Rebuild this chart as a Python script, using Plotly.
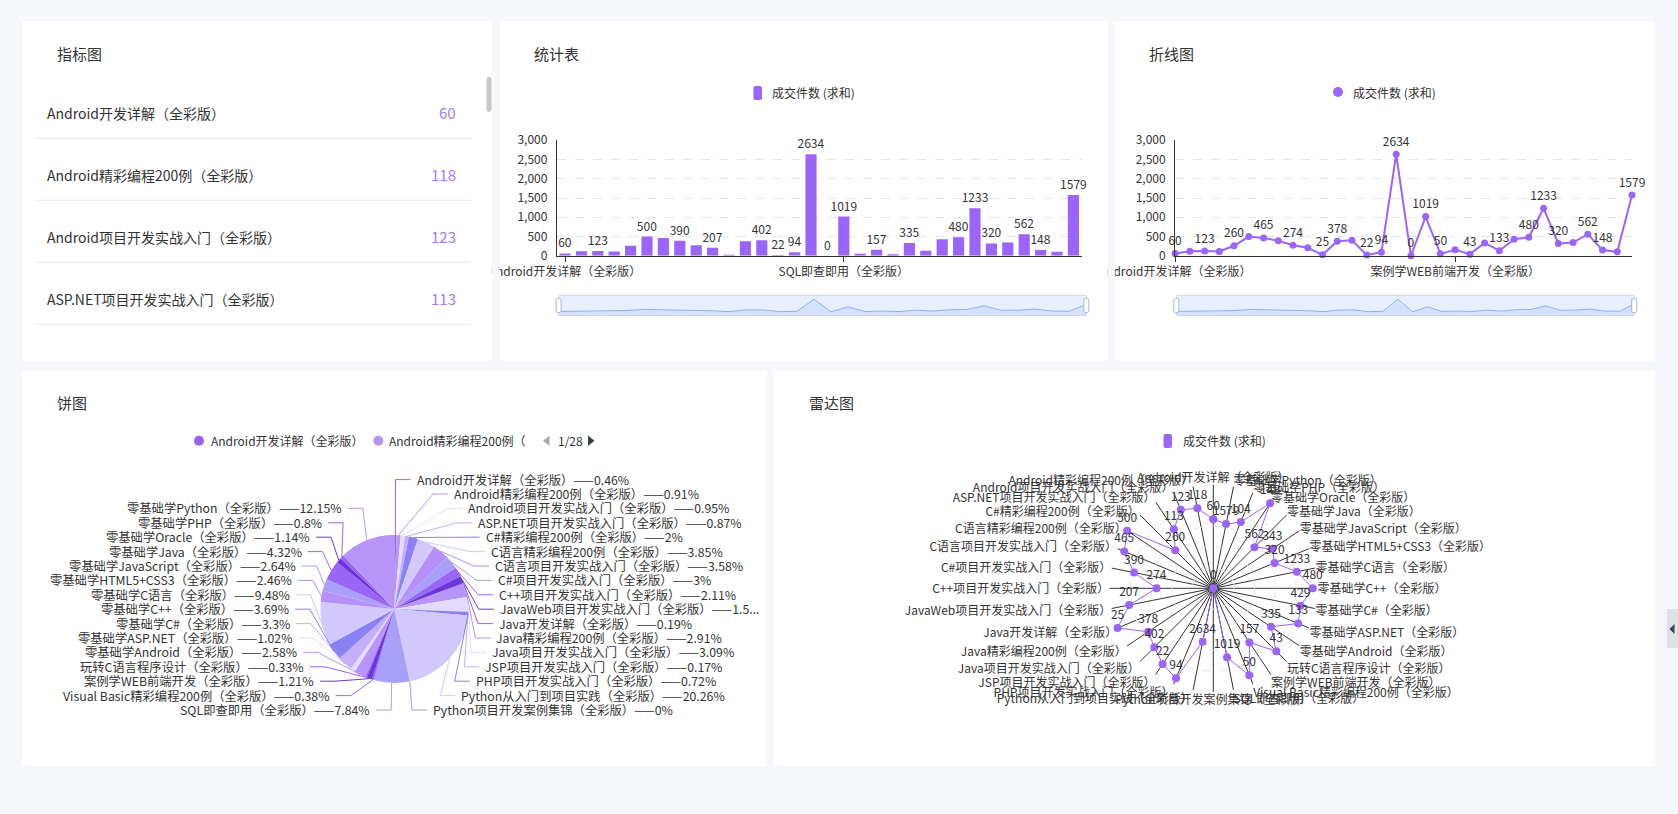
import math
import plotly.graph_objects as go

W, H = 1678, 814
FONT = "Noto Sans CJK SC"
TXT = "#333333"
PURPLE = "#9b64fa"
BG = "#f5f7fa"

# ---------------- data ----------------
categories = [
    "Android开发详解（全彩版）", "Android精彩编程200例（全彩版）", "Android项目开发实战入门（全彩版）",
    "ASP.NET项目开发实战入门（全彩版）", "C#精彩编程200例（全彩版）", "C语言精彩编程200例（全彩版）",
    "C语言项目开发实战入门（全彩版）", "C#项目开发实战入门（全彩版）", "C++项目开发实战入门（全彩版）",
    "JavaWeb项目开发实战入门（全彩版）", "Java开发详解（全彩版）", "Java精彩编程200例（全彩版）",
    "Java项目开发实战入门（全彩版）", "JSP项目开发实战入门（全彩版）", "PHP项目开发实战入门（全彩版）",
    "Python从入门到项目实践（全彩版）", "Python项目开发案例集锦（全彩版）", "SQL即查即用（全彩版）",
    "Visual Basic精彩编程200例（全彩版）", "案例学WEB前端开发（全彩版）", "玩转C语言程序设计（全彩版）",
    "零基础学Android（全彩版）", "零基础学ASP.NET（全彩版）", "零基础学C#（全彩版）",
    "零基础学C++（全彩版）", "零基础学C语言（全彩版）", "零基础学HTML5+CSS3（全彩版）",
    "零基础学JavaScript（全彩版）", "零基础学Java（全彩版）", "零基础学Oracle（全彩版）",
    "零基础学PHP（全彩版）", "零基础学Python（全彩版）",
]
sales = [60, 118, 123, 113, 260, 500, 465, 390, 274, 207, 25, 378, 402, 22, 94, 2634,
         0, 1019, 50, 157, 43, 335, 133, 429, 480, 1233, 320, 343, 562, 148, 104, 1579]
radar_max = [90, 150, 150, 165, 500, 500, 500, 500, 500, 250, 25, 500, 500, 25, 100, 5000,
             100, 1500, 55, 250, 50, 500, 150, 500, 500, 1500, 500, 500, 1000, 150, 150, 2500]
series_name = "成交件数 (求和)"
bar_label_idx = [0, 2, 5, 7, 9, 12, 13, 14, 15, 16, 17, 19, 21, 24, 25, 26, 28, 29, 31]
line_label_idx = [0, 2, 4, 6, 8, 10, 11, 13, 14, 15, 16, 17, 18, 20, 22, 24, 25, 26, 28, 29, 31]
bar_tick_idx = [0, 17]
line_tick_idx = [0, 19]
y_ticks = [0, 500, 1000, 1500, 2000, 2500, 3000]
pie_palette = ["#9a60f8", "#b794f8", "#e4dcfd", "#c4b0fa", "#8c80f5",
               "#d2c8fc", "#b490f8", "#a8a0f8", "#9966f7", "#6a38d8"]
indicator_rows = 4

# ---------------- helpers ----------------
def X(x):
    return x / W


def Y(y):
    return 1 - y / H


shapes, annotations = [], []


def rect(x0, y0, x1, y1, fill, line=None, lw=0, layer="below"):
    shapes.append(dict(type="rect", xref="paper", yref="paper", x0=X(x0), x1=X(x1),
                       y0=Y(y1), y1=Y(y0), fillcolor=fill,
                       line=dict(color=line or "rgba(0,0,0,0)", width=lw), layer=layer))


def seg(pts, color, lw=1, dash=None, layer="above"):
    path = "M " + " L ".join(f"{X(x):.6f},{Y(y):.6f}" for x, y in pts)
    ln = dict(color=color, width=lw)
    if dash:
        ln["dash"] = dash
    shapes.append(dict(type="path", xref="paper", yref="paper", path=path, line=ln, layer=layer))


def poly(pts, fill, layer="above"):
    path = "M " + " L ".join(f"{X(x):.6f},{Y(y):.6f}" for x, y in pts) + " Z"
    shapes.append(dict(type="path", xref="paper", yref="paper", path=path, fillcolor=fill,
                       line=dict(width=0), layer=layer))


def rrect(x0, y0, x1, y1, r, fill, line=None, lw=0, layer="above"):
    p = lambda x, y: f"{X(x):.6f},{Y(y):.6f}"
    path = (f"M {p(x0 + r, y0)} L {p(x1 - r, y0)} Q {p(x1, y0)} {p(x1, y0 + r)} "
            f"L {p(x1, y1 - r)} Q {p(x1, y1)} {p(x1 - r, y1)} L {p(x0 + r, y1)} "
            f"Q {p(x0, y1)} {p(x0, y1 - r)} L {p(x0, y0 + r)} Q {p(x0, y0)} {p(x0 + r, y0)} Z")
    shapes.append(dict(type="path", xref="paper", yref="paper", path=path, fillcolor=fill,
                       line=dict(color=line or "rgba(0,0,0,0)", width=lw), layer=layer))


def circ(cx, cy, r, fill, layer="above"):
    shapes.append(dict(type="circle", xref="paper", yref="paper", x0=X(cx - r), x1=X(cx + r),
                       y0=Y(cy + r), y1=Y(cy - r), fillcolor=fill, line=dict(width=0), layer=layer))


def text(x, y, s, size=12, color=TXT, xanchor="left", yanchor="middle"):
    annotations.append(dict(xref="paper", yref="paper", x=X(x), y=Y(y), text=s, showarrow=False,
                            xanchor=xanchor, yanchor=yanchor, borderpad=0,
                            font=dict(family=FONT, size=size, color=color)))


# ---------------- panels ----------------
rect(22, 21, 491.7, 360.7, "white")
rect(499.8, 21, 1107.7, 360.7, "white")
rect(1115, 21, 1654.5, 360.7, "white")
rect(22, 370.3, 766.3, 766.3, "white")
rect(773.8, 370.3, 1654.5, 766.3, "white")

text(56, 53.5, "指标图", 15)
text(533, 53.5, "统计表", 15)
text(1148, 53.5, "折线图", 15)
text(56, 402.4, "饼图", 15)
text(808, 402.4, "雷达图", 15)

# ---------------- indicator list ----------------
for k in range(indicator_rows):
    yc = 112.7 + 62 * k
    text(46, yc, categories[k], 14)
    text(457, yc, str(sales[k]), 15, "#a17cf6", xanchor="right")
    seg([(36, yc + 25.6), (471.7, yc + 25.6)], "#e8e8e8", 1, layer="below")
rrect(486.5, 77, 491.5, 112, 2.5, "#c8c8c8", layer="below")

# ---------------- figure ----------------
fig = go.Figure()
xs = list(range(len(sales)))

fig.add_trace(go.Bar(
    x=xs, y=sales, width=0.68, marker=dict(color=PURPLE, line=dict(width=0)),
    text=[str(v) if i in bar_label_idx else "" for i, v in enumerate(sales)],
    textposition="outside", constraintext="none", cliponaxis=False,
    textfont=dict(family=FONT, size=12, color=TXT), xaxis="x", yaxis="y",
    showlegend=False, hoverinfo="skip"))

fig.add_trace(go.Scatter(
    x=xs, y=sales, mode="lines+markers+text",
    text=[str(v) if i in line_label_idx else "" for i, v in enumerate(sales)],
    textposition="top center", cliponaxis=False,
    textfont=dict(family=FONT, size=12, color=TXT),
    line=dict(color=PURPLE, width=2), marker=dict(size=7, color=PURPLE),
    xaxis="x2", yaxis="y2", showlegend=False, hoverinfo="skip"))

# data-zoom sliders (data shadow)
vmin, vmax = min(sales), max(sales)
pad = (vmax - vmin) * 0.3
for xa, ya in (("x3", "y3"), ("x4", "y4")):
    fig.add_trace(go.Scatter(x=xs, y=[vmin - pad] * len(xs), mode="lines",
                             line=dict(width=0, color="rgba(0,0,0,0)"),
                             xaxis=xa, yaxis=ya, showlegend=False, hoverinfo="skip"))
    fig.add_trace(go.Scatter(x=xs, y=sales, mode="lines", fill="tonexty",
                             fillcolor="rgba(143,176,247,0.2)",
                             line=dict(width=1, color="#8fb0f7"),
                             xaxis=xa, yaxis=ya, showlegend=False, hoverinfo="skip"))

for (sx0, sx1) in ((558.6, 1086.3), (1176.3, 1634.2)):
    rect(sx0, 295.5, sx1, 315.5, "rgba(231,239,255,1)", "#d2dbee", 1, layer="below")
    for hx in (sx0, sx1):
        rrect(hx - 2.5, 298.5, hx + 2.5, 312.5, 1.5, "white", "#acb8d1", 1)

# legends (bar / line)
rrect(753.4, 86, 762, 100, 2, PURPLE)
text(770.5, 93, series_name, 12)
circ(1338, 92, 5, PURPLE)
text(1351.7, 92, series_name, 12)

# masks for clipped first axis labels
rect(470, 262, 491.7, 282, "white", layer="above")
rect(491.7, 262, 499.8, 282, BG, layer="above")
rect(1085, 262, 1107.7, 282, "white", layer="above")
rect(1107.7, 262, 1115, 282, BG, layer="above")

# ---------------- pie ----------------
PCX, PCY, PR = 394.3, 609.0, 74.0
LEN1, LEN2, GAP = 10.5, 15.0, 5.0
LH = 14.4
YMAX = 710.0
LIMIT_R = 762.0
PFS = 12.3
total = sum(sales)
pie_colors = [pie_palette[i % len(pie_palette)] for i in range(len(sales))]

fig.add_trace(go.Pie(
    labels=categories, values=sales, sort=False, direction="clockwise", rotation=0,
    marker=dict(colors=pie_colors, line=dict(width=0)), textinfo="none",
    hoverinfo="skip", showlegend=False, automargin=False,
    domain=dict(x=[X(PCX - PR), X(PCX + PR)], y=[Y(PCY + PR), Y(PCY - PR)])))


def fmt_pct(v):
    s = f"{round(v / total * 100, 2):.2f}".rstrip("0").rstrip(".")
    return s


def tw(s, size=PFS):
    em = 0.0
    for c in s:
        if ord(c) > 0x2000:
            em += 1.0
        elif c == ".":
            em += 0.27
        elif c.isdigit():
            em += 0.555
        elif c == "%":
            em += 0.86
        elif c.isupper():
            em += 0.62
        else:
            em += 0.53
    return em * size


rA = PR + LEN1
items = []
cum = 0
for i, v in enumerate(sales):
    mid = math.radians((cum + v / 2) / total * 360)
    cum += v
    sx, sy = math.sin(mid), -math.cos(mid)
    items.append(dict(i=i, dir=1 if sx >= 0 else -1, edge=(PCX + PR * sx, PCY + PR * sy),
                      y=PCY + rA * sy, dx0=rA * sx))

for d in (1, -1):
    side = sorted([t for t in items if t["dir"] == d], key=lambda t: t["y"])
    for k in range(1, len(side)):
        side[k]["y"] = max(side[k]["y"], side[k - 1]["y"] + LH)
    if side[-1]["y"] > YMAX:
        side[-1]["y"] = YMAX
        for k in range(len(side) - 2, -1, -1):
            side[k]["y"] = min(side[k]["y"], side[k + 1]["y"] - LH)
    for semi in ([t for t in side if t["y"] <= PCY], [t for t in side if t["y"] > PCY]):
        if not semi:
            continue
        ext = max(semi, key=lambda t: abs(t["y"] - PCY))
        dy = abs(ext["y"] - PCY)
        dx = abs(ext["dx0"])
        rB = math.sqrt(dy * dy / (1 - dx * dx / (rA * rA))) if dx < rA else rA
        rB = max(rB, dy, 1e-6)
        for t in semi:
            ddy = abs(t["y"] - PCY)
            t["ex"] = math.sqrt(max(0.0, 1 - ddy * ddy / (rB * rB))) * rA

for t in items:
    i, d = t["i"], t["dir"]
    col = pie_colors[i]
    ex, ly = t["ex"], t["y"]
    elbow = (PCX + d * ex, ly)
    lend = (PCX + d * (ex + LEN2), ly)
    seg([t["edge"], elbow, lend], col, 1)
    label = f"{categories[i]}——{fmt_pct(sales[i])}%"
    tx = lend[0] + d * GAP
    if d == 1 and tx + tw(label) > LIMIT_R:
        s = ""
        for c in label:
            if tx + tw(s + c) + tw("...") > LIMIT_R:
                break
            s += c
        label = s + "..."
    text(tx, ly, label, PFS, TXT, xanchor="left" if d == 1 else "right")

# pie legend
circ(199, 440.7, 5, pie_colors[0])
text(210, 440.7, categories[0], 12)
circ(378.3, 440.7, 5, pie_colors[1])
text(388.3, 440.7, categories[1][:len("Android精彩编程200例（")], 12)
poly([(549.5, 435.5), (549.5, 446), (543, 440.7)], "#aaaaaa")
text(556.5, 440.7, "1/28", 12)
poly([(588, 435.5), (588, 446), (594.5, 440.7)], "#2f4554")

# ---------------- radar ----------------
RCX, RCY, RR = 1213.3, 588.3, 103.6
rnorm = [v / m for v, m in zip(sales, radar_max)]
fig.add_trace(go.Scatterpolar(
    r=rnorm + [rnorm[0]], theta=categories + [categories[0]],
    mode="lines+markers+text", text=[str(v) for v in sales] + [""],
    textposition="top center", cliponaxis=False,
    textfont=dict(family=FONT, size=12, color=TXT),
    line=dict(color=PURPLE, width=1), marker=dict(size=8, color=PURPLE),
    subplot="polar", showlegend=False, hoverinfo="skip"))

rrect(1163.5, 434, 1172, 448, 2, PURPLE)
text(1181.7, 441, series_name, 12)

# right-edge widget
rect(1667, 609, 1678, 648, "#dde1ea", layer="above")
poly([(1674.5, 624), (1674.5, 634), (1669.5, 629)], "#3a4255")

axis_common = dict(fixedrange=True, zeroline=False, automargin=False)
fig.update_layout(
    width=W, height=H, autosize=False,
    margin=dict(l=0, r=0, t=0, b=0, pad=0, autoexpand=False),
    paper_bgcolor=BG, plot_bgcolor="rgba(0,0,0,0)",
    font=dict(family=FONT, size=12, color=TXT),
    showlegend=False, bargap=0.3,
    xaxis=dict(domain=[X(556.8), X(1081.6)], range=[-0.5, 31.5], anchor="y",
               tickvals=bar_tick_idx, ticktext=[categories[i] for i in bar_tick_idx],
               ticks="outside", ticklen=5, tickcolor="#333", showline=True, linecolor="#333",
               linewidth=1, showgrid=False, tickfont=dict(size=12, color=TXT), **axis_common),
    yaxis=dict(domain=[Y(255.8), Y(140.2)], range=[0, 3000], anchor="x", tickvals=y_ticks,
               tickformat=",", showline=True, linecolor="#333", linewidth=1, showgrid=True,
               gridcolor="#e0e6f1", griddash="dash", ticks="", ticklabelstandoff=6,
               tickfont=dict(size=12, color=TXT), **axis_common),
    xaxis2=dict(domain=[X(1175.1), X(1632)], range=[0, 31], anchor="y2",
                tickvals=line_tick_idx, ticktext=[categories[i] for i in line_tick_idx],
                ticks="outside", ticklen=5, tickcolor="#333", showline=True, linecolor="#333",
                linewidth=1, showgrid=False, tickfont=dict(size=12, color=TXT), **axis_common),
    yaxis2=dict(domain=[Y(255.8), Y(140.2)], range=[0, 3000], anchor="x2", tickvals=y_ticks,
                tickformat=",", showline=True, linecolor="#333", linewidth=1, showgrid=True,
                gridcolor="#e0e6f1", griddash="dash", ticks="", ticklabelstandoff=6,
                tickfont=dict(size=12, color=TXT), **axis_common),
    xaxis3=dict(domain=[X(558.6), X(1086.3)], range=[0, 31], anchor="y3", visible=False, **axis_common),
    yaxis3=dict(domain=[Y(315.5), Y(295.5)], range=[vmin - pad, vmax + pad], anchor="x3",
                visible=False, **axis_common),
    xaxis4=dict(domain=[X(1176.3), X(1634.2)], range=[0, 31], anchor="y4", visible=False, **axis_common),
    yaxis4=dict(domain=[Y(315.5), Y(295.5)], range=[vmin - pad, vmax + pad], anchor="x4",
                visible=False, **axis_common),
    polar=dict(
        domain=dict(x=[X(RCX - RR), X(RCX + RR)], y=[Y(RCY + RR), Y(RCY - RR)]),
        bgcolor="rgba(0,0,0,0)",
        radialaxis=dict(range=[0, 1], tickvals=[0.2, 0.4, 0.6, 0.8, 1.0], showticklabels=False,
                        ticks="", showline=False, gridcolor="#e4e4e4", griddash="dash"),
        angularaxis=dict(type="category", categoryarray=categories, rotation=90,
                         direction="counterclockwise", showline=False, ticks="",
                         gridcolor="#333333", tickfont=dict(size=12, color=TXT)),
    ),
    shapes=shapes, annotations=annotations,
)

fig.write_html("out.html", config={"displayModeBar": False, "staticPlot": True},
               post_script="document.body.style.margin='0';document.body.style.overflow='hidden';")
